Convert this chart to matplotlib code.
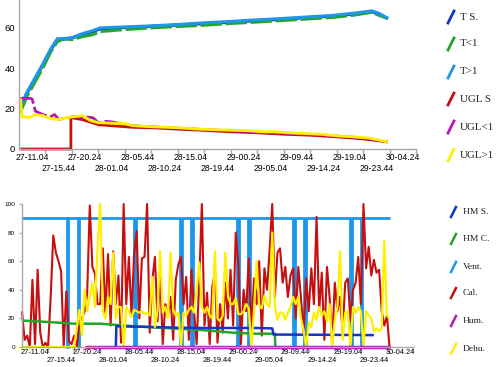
import matplotlib
matplotlib.use("Agg")
import matplotlib.pyplot as plt
import matplotlib.transforms as mtrans
from matplotlib.lines import Line2D
import numpy as np

# ---------------- data ----------------
tick_labels = ["27-11.04", "27-15.44", "27-20.24", "28-01.04", "28-05.44",
               "28-10.24", "28-15.04", "28-19.44", "29-00.24", "29-05.04",
               "29-09.44", "29-14.24", "29-19.04", "29-23.44", "30-04.24"]

# top chart (x in tick-interval units)
t_x = [0.05, 0.3, 0.6, 0.9, 1.2, 1.45, 1.7, 2.0, 2.4, 2.8, 3.06, 4.0, 4.95,
       6.0, 6.84, 8.0, 8.73, 10.0, 11.0, 11.86, 12.6, 13.34, 13.6, 13.94]
t_s = [20.5, 27.5, 34.5, 41.5, 49, 54, 54.2, 54.8, 56.5, 58, 59.3, 60, 60.5,
       61.2, 61.8, 62.6, 63.2, 64.1, 65, 65.6, 66.6, 67.8, 66.6, 64.3]
t_lt1 = [18, 26, 33, 40, 48, 53, 54.5, 54, 55.5, 56.5, 58, 59, 59.8,
         60.5, 61, 62, 62.5, 63.5, 64.3, 65, 66, 67.5, 66, 64.5]
t_gt1 = [21, 28, 35, 42, 49.5, 54.5, 54.5, 55, 57, 58.5, 59.8, 60.3, 60.8,
         61.5, 62.2, 63, 63.6, 64.5, 65.3, 66, 67, 68.2, 67, 64.5]

ugl_s_x = [0.05, 1.96, 1.96, 2.4, 3.0, 3.5, 4.3, 5.0, 6.0, 7.0, 8.0, 9.0,
           10.0, 11.0, 12.0, 13.0, 13.94]
ugl_s = [0, 0, 15.5, 14.5, 12, 11.5, 10.7, 10.5, 9.8, 9.2, 8.5, 8, 7.3,
         6.8, 6, 5, 3.5]
ugl_lt1_x = [0.05, 0.45, 0.5, 0.62, 0.9, 1.2, 1.35, 1.5, 1.8, 2.1, 2.4, 2.55,
             2.8, 3.0, 3.3, 3.6, 4.0, 4.3, 5.0, 6.0, 7.0, 8.0, 8.7, 9.5,
             10.5, 11.5, 12.5, 13.2, 13.94]
ugl_lt1 = [25, 25, 24.5, 18.7, 17, 16, 17, 14.5, 15.5, 16, 15.5, 15.8, 15.4,
           13, 13.7, 13.2, 12, 11.5, 11, 10.3, 9.6, 9, 8.5, 8, 7.5, 6.8, 6,
           5, 3.5]
ugl_gt1_x = [0.05, 0.12, 0.4, 0.6, 0.9, 1.2, 1.5, 1.8, 2.1, 2.4, 2.7, 3.0,
             3.4, 4.0, 4.3, 5.0, 6.0, 6.8, 7.5, 8.7, 9.2, 9.6, 10.5, 11.4,
             12.0, 12.6, 13.2, 13.94]
ugl_gt1 = [25, 16, 15.5, 17, 16.5, 15, 14.5, 15.5, 16, 16.5, 14, 13, 12.8,
           12.5, 11.5, 11, 10.5, 9.8, 9.5, 9, 8.5, 8.5, 7.8, 7.3, 6.5, 6,
           5.5, 3.5]

# bottom chart
step = 0.1  # sampling interval of Cal./Dehu. (tick-interval units)
cal = [25, 5, 8, 0, 47, 2, 54, 10, 0, 3,
       0, 35, 78, 66, 60, 53, 0, 39, 4, 2,
       8, 0, 18, 20, 25, 37, 99, 56, 51, 30,
       30, 69, 22, 65, 15, 67, 30, 50, 3, 100,
       30, 63, 22, 65, 81, 20, 62, 63, 100, 10,
       47, 63, 18, 52, 2, 30, 22, 35, 5, 47,
       58, 63, 30, 49, 5, 54, 25, 2, 47, 100,
       15, 38, 2, 42, 52, 3, 30, 10, 45, 20,
       54, 15, 80, 58, 2, 40, 25, 62, 10, 48,
       30, 60, 8, 55, 40, 68, 100, 35, 66, 69,
       45, 56, 35, 50, 55, 20, 56, 35, 10, 48,
       25, 55, 30, 91, 25, 52, 5, 56, 35, 2,
       45, 25, 35, 10, 45, 48, 18, 40, 45, 63,
       30, 100, 55, 70, 50, 61, 52, 54, 25, 15,
       22, 0]
dehu = [0, 0, 0, 0, 0, 0, 0, 0, 0, 0,
        0, 0, 0, 0, 0, 0, 0, 0, 0, 0,
        0, 13, 26, 8, 40, 25, 35, 45, 28, 70,
        100, 25, 20, 35, 30, 66, 20, 28, 28, 0,
        28, 25, 21, 26, 25, 24, 25, 23, 24, 22,
        49, 14, 25, 67, 24, 28, 20, 66, 26, 22,
        24, 0, 24, 22, 26, 28, 24, 40, 59, 28,
        24, 28, 22, 20, 67, 20, 18, 22, 66, 36,
        30, 30, 34, 23, 23, 25, 30, 27, 0, 25,
        60, 29, 27, 36, 30, 28, 80, 29, 19, 24,
        24, 19, 24, 28, 35, 30, 35, 20, 12, 0,
        17, 14, 24, 19, 28, 22, 25, 18, 30, 0,
        19, 28, 67, 5, 24, 25, 0, 28, 24, 28,
        25, 0, 25, 22, 20, 11, 13, 11, 13, 74,
        22, 20]
vent_level = 90
vent_start, vent_end = 0.0, 14.1
vent_off = [(1.71, 1.78), (2.13, 2.20), (4.31, 4.38), (6.07, 6.13),
            (6.50, 6.56), (8.26, 8.32), (8.68, 8.74), (10.41, 10.48),
            (10.83, 10.90), (12.58, 12.66), (12.99, 13.05)]
hmc_x = [0.0, 1.0, 2.0, 3.0, 4.3, 5.5, 6.8, 8.1, 9.0, 9.7, 9.72]
hmc = [18.5, 17.5, 16.3, 16.3, 14.5, 13.3, 12, 10, 9.3, 9.3, 0]
hms_x = [3.6, 3.62, 5.0, 6.0, 7.0, 8.0, 9.0, 9.6, 9.65, 11.0, 12.0, 13.5]
hms = [0, 14.5, 14, 13.5, 13.3, 13.3, 13.3, 13, 8.7, 8.6, 8.5, 8.3]
hum_x = [2.4, 14.1]
hum = [0, 0]

top_names = ["T S.", "T<1", "T>1", "UGL S", "UGL<1", "UGL>1"]
bot_names = ["HM S.", "HM C.", "Vent.", "Cal.", "Hum.", "Dehu."]

# ---------------- style ----------------
C_DBLUE = "#1433c8"
C_GREEN = "#22a52a"
C_LBLUE = "#1e96ee"
C_RED = "#c80f0f"
C_MAG = "#b01cb0"
C_YEL = "#fff000"
SPINE = "#a8a8a8"
SANS = ["Liberation Sans", "DejaVu Sans"]
SERIF = ["Liberation Serif", "DejaVu Serif"]

W, H = 500, 367
fig = plt.figure(figsize=(W / 100, H / 100), dpi=100)
fig.patch.set_facecolor("white")


def fx(px):
    return px / W


def fy(py):
    return 1 - py / H


def style_axes(ax, label_size, ylabel_size, ytick_len, row_dy):
    for s in ("top", "right"):
        ax.spines[s].set_visible(False)
    for s in ("left", "bottom"):
        ax.spines[s].set_color(SPINE)
        ax.spines[s].set_linewidth(1.0)
    ax.set_xlim(0, 15)
    ax.set_xticks(np.arange(1, 16))
    ax.set_xticklabels([])
    ax.tick_params(axis="x", which="major", length=3.5, color=SPINE, width=1)
    ax.tick_params(axis="y", length=ytick_len, color=SPINE, labelsize=ylabel_size,
                   pad=3)
    for t in ax.get_yticklabels():
        t.set_family(SANS)
    base = mtrans.blended_transform_factory(ax.transData, ax.transAxes)
    for i, lab in enumerate(tick_labels):
        dy = row_dy[i % 2]
        tr = mtrans.offset_copy(base, fig=fig, x=0, y=dy, units="points")
        ax.text(i + 0.5, 0, lab, transform=tr, ha="center", va="top",
                fontsize=label_size, family=SANS, clip_on=False)


# ---------------- top chart ----------------
ax1 = fig.add_axes([fx(19), fy(149), fx(416) - fx(19), fy(0) - fy(149)])
ax1.set_ylim(0, 149 / 40.5 * 20)
ax1.set_yticks([0, 20, 40, 60])
style_axes(ax1, 6.2, 6.8, 0, (-3, -10.5))

kw = dict(clip_on=False, solid_capstyle="butt")
ax1.plot(t_x, t_s, color=C_DBLUE, lw=2.2, **kw)
ax1.plot(t_x, t_lt1, color=C_GREEN, lw=2.2, dashes=(7, 1.2), **kw)
ax1.plot(t_x, t_gt1, color=C_LBLUE, lw=2.2, **kw)
ax1.plot(ugl_s_x, ugl_s, color=C_RED, lw=2.0, **kw)
ax1.plot(ugl_lt1_x, ugl_lt1, color=C_MAG, lw=2.0, dashes=(6, 1.2), **kw)
ax1.plot(ugl_gt1_x, ugl_gt1, color=C_YEL, lw=2.0, **kw)

# ---------------- bottom chart ----------------
ax2 = fig.add_axes([fx(22), fy(347), fx(413) - fx(22), fy(204) - fy(347)])
ax2.set_ylim(0, 100)
ax2.set_yticks([0, 20, 40, 60, 80, 100])
style_axes(ax2, 5.3, 4.6, 2, (-1.3, -7.3))

vx, vy = [vent_start], [vent_level]
for a, b in vent_off:
    vx += [a, a, b, b]
    vy += [vent_level, 0, 0, vent_level]
vx.append(vent_end)
vy.append(vent_level)
t_cal = np.arange(len(cal)) * step
t_dehu = np.arange(len(dehu)) * step

ax2.plot(vx, vy, color=C_LBLUE, lw=2.0, **kw)
ax2.plot(t_cal, cal, color=C_RED, lw=1.5, **kw)
ax2.plot(hmc_x, hmc, color=C_GREEN, lw=1.8, **kw)
ax2.plot(hms_x, hms, color=C_DBLUE, lw=1.8, **kw)
ax2.plot(t_dehu, dehu, color=C_YEL, lw=1.6, **kw)
ax2.plot(hum_x, hum, color=C_MAG, lw=2.5, **kw)

# ---------------- legends ----------------
top_cols = [C_DBLUE, C_GREEN, C_LBLUE, C_RED, C_MAG, C_YEL]
top_y = [17, 44, 72, 99, 127, 155]
for name, c, y in zip(top_names, top_cols, top_y):
    fig.add_artist(Line2D([fx(448), fx(454)], [fy(y + 6), fy(y - 6)],
                          transform=fig.transFigure, color=c, lw=2.0))
    fig.text(fx(460), fy(y), name, family=SERIF, fontsize=7.9,
             va="center", ha="left", color="#222222")

bot_cols = [C_DBLUE, C_GREEN, C_LBLUE, C_RED, C_MAG, C_YEL]
bot_y = [212, 239, 267, 293, 321, 349]
for name, c, y in zip(bot_names, bot_cols, bot_y):
    fig.add_artist(Line2D([fx(451), fx(456)], [fy(y + 5), fy(y - 5)],
                          transform=fig.transFigure, color=c, lw=1.8))
    fig.text(fx(463), fy(y), name, family=SERIF, fontsize=6.8,
             va="center", ha="left", color="#222222")

fig.savefig("out.png", dpi=100, facecolor="white")
